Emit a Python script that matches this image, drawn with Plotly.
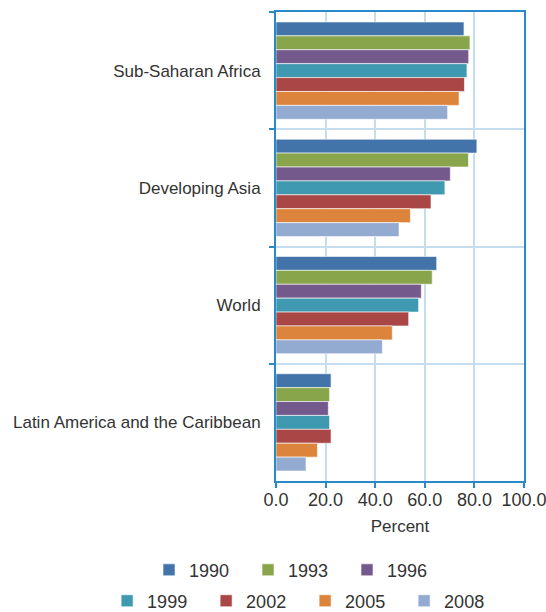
import plotly.graph_objects as go

regions = ["Sub-Saharan Africa", "Developing Asia", "World", "Latin America and the Caribbean"]
years = ["1990", "1993", "1996", "1999", "2002", "2005", "2008"]
v1990 = [75.8, 81.0, 64.8, 22.2]
v1993 = [78.2, 77.6, 63.0, 21.6]
v1996 = [77.7, 70.3, 58.6, 21.1]
v1999 = [77.0, 68.1, 57.5, 21.6]
v2002 = [76.0, 62.5, 53.5, 22.2]
v2005 = [73.8, 54.2, 46.9, 16.7]
v2008 = [69.2, 49.6, 42.9, 12.1]
series = [v1990, v1993, v1996, v1999, v2002, v2005, v2008]
colors = ["#4273a9", "#89a54c", "#74598c", "#3f99b0", "#a84746", "#dc843b", "#93aad1"]
xticks = [0, 20, 40, 60, 80, 100]
xticklabels = ["0.0", "20.0", "40.0", "60.0", "80.0", "100.0"]

fig = go.Figure()
for i, (yr, vals, col) in enumerate(zip(years, series, colors)):
    fig.add_trace(go.Bar(
        x=vals, y=regions, orientation="h", name=yr,
        marker=dict(color=col, line=dict(color="rgba(255,255,255,0.6)", width=1)),
        legend="legend" if i < 3 else "legend2",
    ))

axis_blue = "#2a8ac8"
grid_blue = "#c6ddef"
fontc = "#333333"
ff = "Liberation Sans, Arial, sans-serif"

leg_common = dict(orientation="h", xanchor="left", yanchor="middle",
                  xref="paper", yref="paper",
                  entrywidth=54, entrywidthmode="pixels",
                  font=dict(size=18, color=fontc), itemwidth=30, traceorder="normal")

fig.update_layout(
    width=546, height=612,
    margin=dict(l=276, r=22, t=12, b=131, autoexpand=False),
    barmode="group", bargap=0.17, bargroupgap=0,
    plot_bgcolor="white", paper_bgcolor="white",
    font=dict(family=ff, size=16, color=fontc),
    xaxis=dict(
        range=[0, 100], tickvals=xticks, ticktext=xticklabels, automargin=False,
        ticklabeloverflow="allow", ticklabelstandoff=-4,
        showgrid=True, gridcolor=grid_blue, gridwidth=2,
        showline=True, linecolor=axis_blue, linewidth=2, mirror=True,
        ticks="outside", ticklen=5, tickcolor=axis_blue, tickwidth=2,
        tickfont=dict(size=18, color=fontc), zeroline=False,
        title=dict(text="Percent", font=dict(size=17, color=fontc), standoff=12),
    ),
    yaxis=dict(
        autorange="reversed", tickson="boundaries", automargin=False,
        showgrid=True, gridcolor=grid_blue, gridwidth=2,
        showline=True, linecolor=axis_blue, linewidth=2, mirror=True,
        ticks="outside", ticklen=5, tickcolor=axis_blue, tickwidth=2,
        tickfont=dict(size=17, color=fontc), ticklabelstandoff=10,
    ),
    legend=dict(x=-0.512, y=-0.19, **leg_common),
    legend2=dict(x=-0.681, y=-0.256, **leg_common),
)
fig.write_html("out.html")
